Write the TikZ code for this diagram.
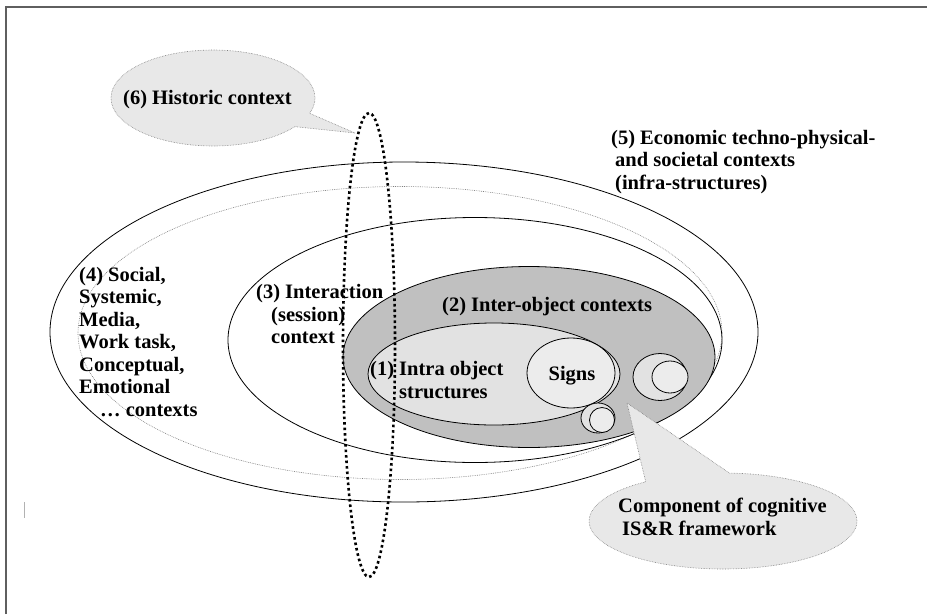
\documentclass[tikz,border=0pt]{standalone}
\usepackage{fontspec}
\setmainfont{Liberation Serif}
\usepackage{tikz}
\usetikzlibrary{shapes.geometric,shapes.callouts}
\definecolor{framegray}{RGB}{95,95,95}
\definecolor{midgray}{RGB}{192,192,192}
\definecolor{lightgray}{RGB}{226,226,226}
\definecolor{signgray}{RGB}{236,236,236}
\definecolor{bubblegray}{RGB}{232,232,232}
\tikzset{ring/.style={ellipse,draw,inner sep=0pt,line width=0.8pt},
  bubble/.style={ellipse callout,draw=gray,densely dotted,fill=bubblegray,inner sep=0pt,line width=0.6pt},
  lbl/.style={font=\bfseries\fontsize{20.5}{22.5}\selectfont,align=left,inner sep=0pt}}

\begin{document}
\begin{tikzpicture}[x=1pt,y=-1pt]
    \useasboundingbox (0,0) rectangle (927,614);
    \draw[framegray,line width=1.6pt] (6,614) -- (6,7) -- (927,7);
    \draw[gray!60,line width=0.8pt] (24,502) -- (24,518);

    \node[ring, minimum width=708, minimum height=340] (ctx5) at (404,332) {};
    \node[ring, draw=gray, densely dotted, line width=0.6pt, minimum width=644, minimum height=293] (ctx4) at (400,333) {};
    \node[ring, minimum width=494, minimum height=245] (ctx3) at (475,340) {};
    \node[ring, fill=midgray, minimum width=372, minimum height=181] (ctx2) at (529,357) {};
    \node[ring, fill=lightgray, minimum width=252, minimum height=102] (ctx1) at (494,374) {};
    \node[ring, fill=signgray, minimum width=88, minimum height=70] (signs) at (571,373) {};
    \node[ring, fill=lightgray, minimum width=54, minimum height=47] (c1out) at (660,377) {};
    \node[ring, fill=signgray, minimum width=36, minimum height=32] (c1in) at (670,377) {};
    \node[ring, fill=lightgray, minimum width=34, minimum height=30] (c2out) at (598,418) {};
    \node[ring, fill=signgray, minimum width=25, minimum height=25] (c2in) at (602,420) {};

    \node[lbl, anchor=west] (t5) at (611,162) {(5) Economic techno-physical-\\\hspace*{4pt}and societal contexts\\\hspace*{4pt}(infra-structures)};
    \node[lbl, anchor=west] (t4) at (79,342) {(4) Social,\\Systemic,\\Media,\\Work task,\\Conceptual,\\Emotional\\\hspace*{21pt}\ldots{} contexts};
    \node[lbl, anchor=west] (t3) at (256,314) {(3) Interaction\\\hspace*{15pt}(session)\\\hspace*{15pt}context};
    \node[lbl, anchor=west] (t2) at (442,307) {(2) Inter-object contexts};
    \node[lbl, anchor=west] (t1) at (370,382) {(1) Intra object\\\phantom{(1) }structures};
    \node[lbl] (tsigns) at (572,376) {Signs};

    \node[ring, draw=black, line width=2.6pt, dash pattern=on 2.6pt off 2.9pt, minimum width=52, minimum height=464] (ctx6) at (369,345) {};

    \node[bubble, minimum width=204, minimum height=96, callout pointer arc=18, callout absolute pointer={(355,133)}] (hist) at (213,98) {};
    \node[lbl, anchor=west] (t6) at (123,100) {(6) Historic context};
    \node[bubble, minimum width=268, minimum height=96, callout pointer arc=38, callout absolute pointer={(627,403)}] (comp) at (723,521) {};
    \node[lbl, anchor=west] (tcomp) at (618,517) {Component of cognitive\\\hspace*{4pt}IS\&R framework};
\end{tikzpicture}
\end{document}
